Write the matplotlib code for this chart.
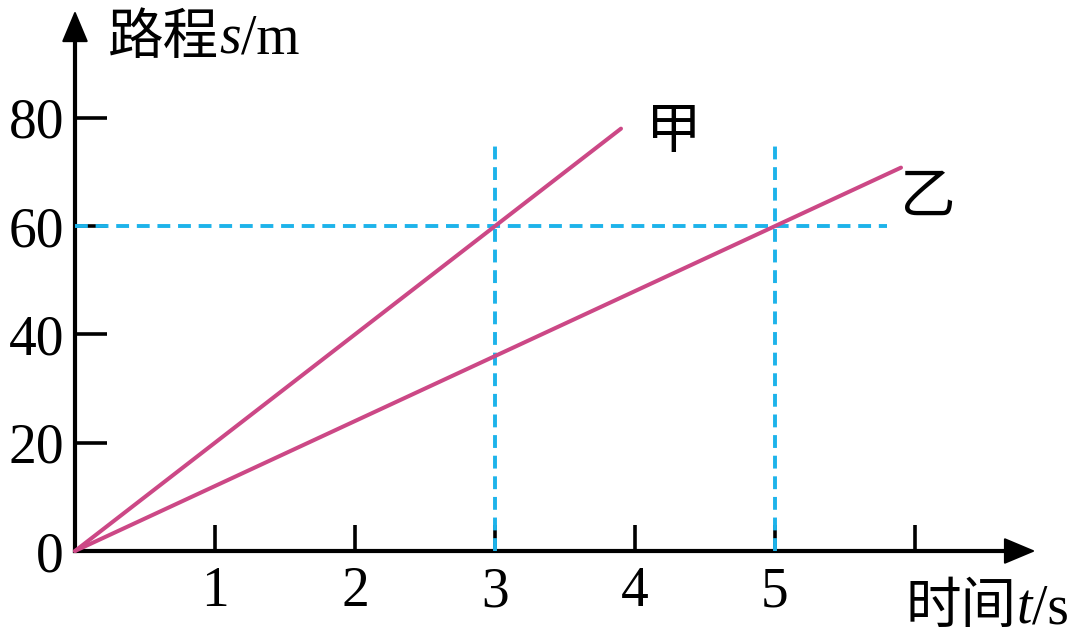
import matplotlib
matplotlib.use("Agg")
import matplotlib.pyplot as plt
from matplotlib.transforms import IdentityTransform

# axis ticks
t_ticks = [1, 2, 3, 4, 5, 6]
t_labels = ["1", "2", "3", "4", "5", ""]
s_ticks = [0, 20, 40, 60, 80]
s_labels = ["0", "20", "40", "60", "80"]

# the two runners (t in s, s in m)
jia_t = [0, 3.9]
jia_s = [0, 78]
yi_t = [0, 5.9]
yi_s = [0, 70.8]

# dashed helper lines
guide_s = 60
guide_t_end = 5.8
guide_t = [3, 5]
guide_s_top = 75

t_arrow = 6.88
s_arrow = 100.3

SERIF = "Liberation Serif"
CJK = "Noto Sans CJK SC"
PINK = "#cc4886"
CYAN = "#1db3ea"
FS = 40

fig = plt.figure(figsize=(10.8, 6.37), dpi=100)
ax = fig.add_axes([0, 0, 1, 1])
ax.set_facecolor("white")
ax.set_xlim(-75 / 140, 1005 / 140)
ax.set_ylim(-86 / 5.415, 551 / 5.415)

for side in ["top", "right"]:
    ax.spines[side].set_visible(False)
ax.spines["left"].set_position(("data", 0))
ax.spines["bottom"].set_position(("data", 0))
ax.spines["left"].set_bounds(0, s_arrow - 2)
ax.spines["bottom"].set_bounds(0, t_arrow - 0.1)
for side in ["left", "bottom"]:
    ax.spines[side].set_linewidth(3.0)

ax.set_xticks(t_ticks)
ax.set_xticklabels(t_labels)
ax.set_yticks(s_ticks)
ax.set_yticklabels(s_labels)
ax.tick_params(axis="x", direction="in", length=19, width=2.6, pad=11,
               labelsize=FS, labelfontfamily=SERIF)
ax.tick_params(axis="y", direction="in", length=23, width=2.6, pad=8,
               labelsize=FS, labelfontfamily=SERIF)
ax.yaxis.get_major_ticks()[0].tick1line.set_visible(False)

# arrow heads
head = dict(arrowstyle="-|>,head_length=1.0,head_width=0.42", color="black",
            lw=1.5, mutation_scale=20)
ax.annotate("", xy=(t_arrow, 0), xytext=(t_arrow - 0.3, 0), arrowprops=head)
ax.annotate("", xy=(0, s_arrow), xytext=(0, s_arrow - 8), arrowprops=head)

# dashed guides
ax.plot([0, guide_t_end], [guide_s, guide_s], color=CYAN, lw=2.8,
        dashes=(3.3, 2.0), zorder=3)
for tg in guide_t:
    ax.plot([tg, tg], [0, guide_s_top], color=CYAN, lw=2.8,
            dashes=(3.3, 2.0), zorder=3)

ax.plot(jia_t, jia_s, color=PINK, lw=2.9, zorder=4, solid_capstyle="round")
ax.plot(yi_t, yi_s, color=PINK, lw=2.9, zorder=4, solid_capstyle="round")

ax.text(4.28, 77.4, "甲", family=CJK, fontsize=FS, ha="center", va="center")
ax.text(6.09, 65.4, "乙", family=CJK, fontsize=FS, ha="center", va="center")


def put_label(x, y, parts):
    fig.canvas.draw()
    r = fig.canvas.get_renderer()
    px, py = ax.transData.transform((x, y))
    for txt, kw in parts:
        t = fig.text(px, py, txt, transform=IdentityTransform(), ha="left",
                     va="baseline", fontsize=FS, **kw)
        px = t.get_window_extent(r).x1


put_label(0.236, 91.8, [("路程", dict(family=CJK)),
                        ("s", dict(family=SERIF, style="italic")),
                        ("/m", dict(family=SERIF))])
put_label(5.93, -13.3, [("时间", dict(family=CJK)),
                        ("t", dict(family=SERIF, style="italic")),
                        ("/s", dict(family=SERIF))])

fig.savefig("out.png", dpi=100)
